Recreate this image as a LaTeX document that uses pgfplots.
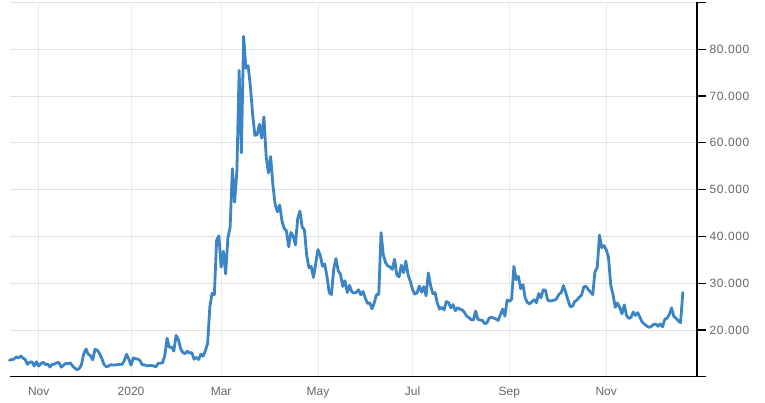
\documentclass[border=0pt]{standalone}
\usepackage{fontspec}
\setmainfont{Liberation Sans}
\newfontfamily\ylabfont[LetterSpace=5]{Liberation Sans}
\usepackage{pgfplots}
\pgfplotsset{compat=1.18}
\usepackage{pgfplotstable}
\definecolor{vixblue}{HTML}{3B84C6}
\definecolor{labgray}{HTML}{666666}
\definecolor{hgrid}{HTML}{E2E2E2}
\definecolor{vgrid}{HTML}{ECECEC}
\pgfplotstableread{
i v
0 13.54
1 13.68
2 13.79
3 14.25
4 14.00
5 14.46
6 14.01
7 13.71
8 12.65
9 13.11
10 13.20
11 12.33
12 13.22
13 12.30
14 12.83
15 13.10
16 12.62
17 12.73
18 12.07
19 12.69
20 12.68
21 13.00
22 13.05
23 12.05
24 12.46
25 12.86
26 12.78
27 12.98
28 12.34
29 11.87
30 11.54
31 11.75
32 12.62
33 14.91
34 15.96
35 14.80
36 14.52
37 13.62
38 15.86
39 15.68
40 14.99
41 13.94
42 12.63
43 12.14
44 12.29
45 12.58
46 12.50
47 12.51
48 12.61
49 12.67
50 12.65
51 13.43
52 14.82
53 13.78
54 12.47
55 14.02
56 13.85
57 13.79
58 13.45
59 12.54
60 12.56
61 12.32
62 12.39
63 12.42
64 12.32
65 12.10
66 12.85
67 12.91
68 12.98
69 14.56
70 18.23
71 16.28
72 16.39
73 15.49
74 18.84
75 17.97
76 16.05
77 15.15
78 14.96
79 15.47
80 15.04
81 15.18
82 13.74
83 14.15
84 13.68
85 14.83
86 14.38
87 15.56
88 17.08
89 25.03
90 27.85
91 27.56
92 39.16
93 40.11
94 33.42
95 36.82
96 31.99
97 39.62
98 41.94
99 54.46
100 47.30
101 53.90
102 75.47
103 57.83
104 82.69
105 75.91
106 76.45
107 72.00
108 66.04
109 61.59
110 61.67
111 63.95
112 61.00
113 65.54
114 57.08
115 53.54
116 57.06
117 50.91
118 46.80
119 45.24
120 46.70
121 43.35
122 41.67
123 41.17
124 37.76
125 40.84
126 40.11
127 38.15
128 43.83
129 45.41
130 41.98
131 41.38
132 35.93
133 33.29
134 33.57
135 31.23
136 34.15
137 37.19
138 35.97
139 33.61
140 34.12
141 31.44
142 27.98
143 27.57
144 33.04
145 35.28
146 32.61
147 31.89
148 29.30
149 30.53
150 27.99
151 29.53
152 28.16
153 27.91
154 28.01
155 28.59
156 27.51
157 28.23
158 26.84
159 25.66
160 25.81
161 24.52
162 25.81
163 27.57
164 27.57
165 40.79
166 36.09
167 34.40
168 33.67
169 33.47
170 32.94
171 35.12
172 31.77
173 31.37
174 33.84
175 32.22
176 34.73
177 31.78
178 30.43
179 28.62
180 27.68
181 27.94
182 29.43
183 28.08
184 29.26
185 27.29
186 32.19
187 29.52
188 27.76
189 28.00
190 25.68
191 24.46
192 24.84
193 24.32
194 26.08
195 25.84
196 24.74
197 25.44
198 24.10
199 24.76
200 24.46
201 24.28
202 23.76
203 22.99
204 22.65
205 22.21
206 22.13
207 24.03
208 22.28
209 22.13
210 22.05
211 21.35
212 21.51
213 22.54
214 22.72
215 22.54
216 22.37
217 22.03
218 23.27
219 24.47
220 22.96
221 26.41
222 26.12
223 26.57
224 33.60
225 30.75
226 31.46
227 28.81
228 29.71
229 26.87
230 25.85
231 25.59
232 26.04
233 26.46
234 25.83
235 27.78
236 26.86
237 28.58
238 28.51
239 26.38
240 26.19
241 26.27
242 26.37
243 26.70
244 27.63
245 27.96
246 29.48
247 28.06
248 26.36
249 25.00
250 25.07
251 26.07
252 26.40
253 26.97
254 27.41
255 29.18
256 29.35
257 28.65
258 28.11
259 27.55
260 32.46
261 33.35
262 40.28
263 37.59
264 38.02
265 37.13
266 35.55
267 29.57
268 27.58
269 24.86
270 25.75
271 24.80
272 23.45
273 25.35
274 23.10
275 22.45
276 22.71
277 23.84
278 23.11
279 23.70
280 22.66
281 21.64
282 21.25
283 20.84
284 20.57
285 20.77
286 21.17
287 21.28
288 20.79
289 21.30
290 20.68
291 22.27
292 22.52
293 23.31
294 24.72
295 22.89
296 22.50
297 21.93
298 21.57
299 28.00
}\vixdata
\begin{document}
\begin{tikzpicture}
\path[use as bounding box] (0,0) rectangle (765pt,403pt);
\begin{axis}[
  at={(10pt,26.2pt)}, anchor=south west,
  scale only axis, width=687pt, height=374.5pt,
  xmin=0.26, xmax=305.3, ymin=10, ymax=90,
  axis x line*=bottom, axis y line*=right,
  axis line style={black, line width=1.2pt, -},
  xtick={13,54,94,137,179,222,265},
  xticklabels={Nov,2020,Mar,May,Jul,Sep,Nov},
  ytick={10,20,30,40,50,60,70,80,90},
  yticklabels={,20.000,30.000,40.000,50.000,60.000,70.000,80.000,},
  xmajorgrids, ymajorgrids,
  x grid style={vgrid, line width=0.8pt},
  y grid style={hgrid, line width=0.8pt},
  tick align=outside,
  xtick style={draw=none},
  ytick style={black, line width=1.2pt},
  major tick length=9pt,
  xticklabel style={font=\fontsize{12}{14}\selectfont, text=labgray, anchor=base, yshift=-10pt},
  yticklabel style={font=\ylabfont\fontsize{12}{14}\selectfont, text=labgray, anchor=west},
  clip=false,
]
\addplot[vixblue, line width=2.8pt, line join=round, line cap=round, no markers] table[x=i, y=v] {\vixdata};
\end{axis}
\end{tikzpicture}
\end{document}
